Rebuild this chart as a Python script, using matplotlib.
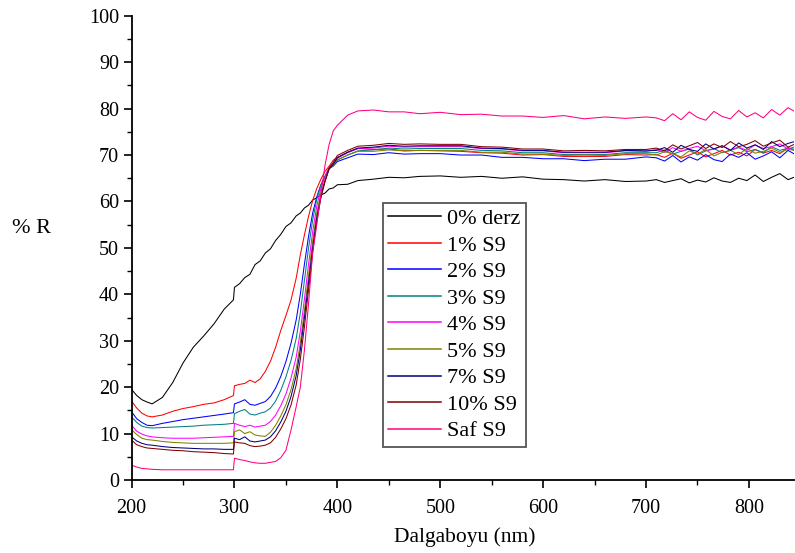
import matplotlib
matplotlib.use("Agg")
import matplotlib.pyplot as plt
from matplotlib.ticker import MultipleLocator

plt.rcParams['font.family'] = ['Liberation Serif', 'DejaVu Serif']

# Wavelength grid (nm)
wavelength = [200, 205, 210, 215, 220, 230, 240, 250, 260, 270, 280, 290, 299,
              300, 305, 310, 315, 320, 325, 330, 335, 340, 345, 350, 355, 360,
              364, 368, 372, 376, 380, 384, 388, 392, 396, 400,
              410, 420, 435, 450, 465, 480, 500, 520, 540, 560, 580, 600, 620,
              640, 660, 680, 700,
              710, 718, 726, 734, 742, 750, 758, 766, 774, 782, 790, 798, 806,
              814, 822, 830, 838, 846]

# Reflectance (%) of each sample
r_0_derz = [19.5, 18.2, 17.3, 16.8, 16.4, 17.8, 21.0, 25.2, 28.6, 31.0, 33.6, 36.8, 38.8,
            41.5, 42.3, 43.6, 44.3, 46.4, 47.2, 48.9, 49.8, 51.6, 52.9, 54.6, 55.4, 56.9,
            57.5, 58.6, 59.2, 60.3, 60.8, 61.4, 61.8, 62.7, 62.9, 63.6,
            63.7, 64.5, 64.8, 65.2, 65.1, 65.4, 65.5, 65.2, 65.4, 65.0, 65.3, 64.8, 64.7,
            64.4, 64.7, 64.3, 64.4,
            64.7, 64.1, 64.5, 64.9, 64.0, 64.6, 64.2, 65.1, 64.4, 64.1, 65.0, 64.5, 65.7,
            64.3, 65.2, 66.0, 64.7, 65.4]
r_1_s9 = [17.0, 15.5, 14.4, 13.8, 13.6, 14.0, 14.8, 15.4, 15.8, 16.3, 16.6, 17.3, 18.2,
          20.3, 20.6, 20.8, 21.5, 21.0, 21.8, 23.4, 25.6, 28.6, 32.2, 35.4, 38.8, 43.5,
          48.5, 52.8, 56.8, 60.2, 62.8, 64.8, 66.5, 67.6, 68.9, 69.5,
          70.6, 71.4, 71.2, 71.3, 70.9, 71.0, 70.9, 70.8, 70.5, 70.4, 70.0, 70.1, 69.7,
          69.7, 69.7, 70.1, 70.0,
          70.1, 69.5, 70.4, 69.3, 70.0, 70.7, 69.6, 70.3, 71.0, 70.0, 70.6, 69.8, 71.2,
          70.4, 71.0, 70.3, 71.6, 70.8]
r_2_s9 = [14.7, 13.2, 12.4, 11.8, 11.7, 12.2, 12.6, 13.0, 13.3, 13.6, 13.9, 14.2, 14.5,
          16.4, 16.8, 17.3, 16.3, 16.1, 16.5, 16.9, 18.0, 19.8, 22.3, 25.5, 29.5, 34.5,
          40.0, 46.5, 52.5, 57.5, 61.0, 63.6, 65.4, 67.1, 67.6, 68.6,
          69.4, 70.2, 70.1, 70.5, 70.2, 70.3, 70.3, 70.0, 70.0, 69.5, 69.5, 69.2, 69.2,
          68.8, 69.1, 69.1, 69.6,
          69.4, 68.7, 69.9, 68.5, 69.6, 68.9, 70.1, 69.0, 68.6, 70.2, 69.5, 70.5, 69.1,
          69.8, 70.7, 69.4, 71.0, 70.0]
r_3_s9 = [13.6, 12.4, 11.6, 11.3, 11.2, 11.3, 11.4, 11.5, 11.6, 11.8, 11.9, 12.0, 12.2,
          14.3, 14.8, 15.2, 14.2, 14.0, 14.4, 14.7, 15.5, 17.0, 19.3, 22.2, 25.8, 30.5,
          36.0, 43.0, 50.0, 56.0, 60.5, 63.5, 65.4, 67.2, 67.8, 68.9,
          70.0, 70.9, 71.1, 71.5, 71.3, 71.4, 71.4, 71.4, 71.0, 70.9, 70.5, 70.5, 70.1,
          70.1, 70.1, 70.5, 70.5,
          70.5, 71.1, 70.2, 70.8, 71.3, 70.0, 70.9, 71.4, 70.5, 71.0, 71.6, 70.7, 71.2,
          70.5, 71.8, 71.0, 71.5, 71.2]
r_4_s9 = [11.8, 10.5, 9.9, 9.5, 9.3, 9.1, 9.0, 9.0, 9.0, 9.1, 9.2, 9.3, 9.4,
          12.2, 11.8, 11.5, 11.8, 11.4, 11.6, 11.8, 12.6, 14.0, 16.0, 18.5, 22.0, 26.5,
          32.0, 39.0, 46.5, 53.5, 59.0, 62.8, 65.3, 67.4, 68.2, 69.4,
          70.5, 71.4, 71.5, 71.9, 71.7, 71.8, 71.8, 71.8, 71.4, 71.3, 70.9, 70.9, 70.5,
          70.5, 70.5, 70.9, 70.8,
          71.2, 70.6, 71.6, 70.8, 71.4, 71.9, 70.9, 71.3, 72.0, 71.1, 71.7, 71.0, 72.2,
          71.4, 71.8, 72.4, 71.3, 71.9]
r_5_s9 = [10.8, 9.8, 9.0, 8.7, 8.6, 8.3, 8.1, 8.0, 7.9, 7.9, 7.9, 7.9, 8.0,
          10.4, 10.8, 10.0, 10.4, 9.7, 9.5, 9.4, 10.3, 11.8, 13.8, 16.2, 19.5, 24.0,
          29.5, 36.5, 44.0, 51.5, 57.5, 61.8, 64.6, 67.0, 67.8, 69.0,
          70.0, 70.8, 70.8, 71.1, 70.9, 71.0, 71.0, 71.0, 70.6, 70.6, 70.2, 70.2, 69.9,
          70.0, 69.9, 70.3, 70.3,
          70.0, 70.7, 70.3, 69.6, 70.9, 70.2, 71.2, 69.8, 70.6, 71.0, 70.1, 71.4, 70.4,
          70.8, 71.5, 70.6, 71.2, 71.0]
r_7_s9 = [9.3, 8.4, 7.9, 7.6, 7.5, 7.2, 7.0, 6.9, 6.8, 6.7, 6.7, 6.6, 6.6,
          9.0, 8.7, 9.3, 8.4, 8.2, 8.4, 8.6, 9.3, 10.6, 12.5, 14.8, 18.0, 22.5,
          28.0, 35.0, 42.5, 50.0, 56.5, 61.0, 64.3, 67.0, 68.0, 69.4,
          70.6, 71.5, 71.7, 72.1, 71.9, 72.0, 72.0, 72.0, 71.5, 71.4, 71.0, 71.0, 70.6,
          70.6, 70.6, 71.0, 70.9,
          71.0, 71.6, 70.6, 72.1, 71.2, 70.8, 72.4, 71.3, 72.0, 71.0, 72.6, 71.5, 72.2,
          71.2, 72.9, 71.8, 72.5, 73.0]
r_10_s9 = [8.6, 7.6, 7.2, 6.9, 6.8, 6.6, 6.4, 6.3, 6.1, 6.0, 5.9, 5.7, 5.6,
           8.2, 8.0, 7.9, 7.4, 7.2, 7.3, 7.5, 8.0, 9.2, 11.0, 13.2, 16.2, 20.5,
           26.0, 33.0, 41.0, 49.0, 55.8, 60.8, 64.4, 67.2, 68.4, 69.9,
           71.0, 71.9, 72.1, 72.5, 72.3, 72.4, 72.3, 72.3, 71.8, 71.7, 71.3, 71.3, 70.9,
           71.0, 70.9, 71.2, 71.2,
           71.5, 70.9, 72.2, 71.3, 72.0, 72.7, 71.4, 72.4, 71.6, 72.9, 71.8, 72.3, 73.1,
           71.9, 72.6, 73.2, 71.7, 72.5]
r_saf_s9 = [3.2, 2.8, 2.5, 2.4, 2.3, 2.2, 2.2, 2.2, 2.2, 2.2, 2.2, 2.2, 2.2,
            4.7, 4.4, 4.2, 3.9, 3.7, 3.6, 3.6, 3.8, 4.0, 4.8, 6.4, 10.8, 15.8,
            20.0, 28.0, 38.0, 49.0, 55.0, 61.5, 67.8, 72.3, 75.2, 76.4,
            78.6, 79.5, 79.7, 79.3, 79.3, 78.9, 79.2, 78.7, 78.8, 78.4, 78.4, 78.1, 78.5,
            77.8, 78.2, 77.9, 78.2,
            78.0, 77.4, 78.9, 77.6, 79.3, 78.1, 77.5, 79.4, 78.3, 77.8, 79.6, 78.2, 79.1,
            78.0, 79.8, 78.6, 80.2, 79.2]

labels = ['0% derz', '1% S9', '2% S9', '3% S9', '4% S9', '5% S9', '7% S9', '10% S9', 'Saf S9']
series = [r_0_derz, r_1_s9, r_2_s9, r_3_s9, r_4_s9, r_5_s9, r_7_s9, r_10_s9, r_saf_s9]
colors = ['#000000', '#ff0000', '#0000ff', '#008080', '#ff00ff',
          '#808000', '#000080', '#800000', '#ff0080']

fig = plt.figure(figsize=(7.95, 5.53), dpi=100)
ax = fig.add_axes([0.1655, 0.132, 0.8335, 0.8395])

for ys, lab, col in zip(series, labels, colors):
    ax.plot(wavelength, ys, color=col, lw=0.75, label=lab)

ax.set_xlim(200, 844)
ax.set_ylim(0, 100)
ax.xaxis.set_major_locator(MultipleLocator(100))
ax.xaxis.set_minor_locator(MultipleLocator(50))
ax.yaxis.set_major_locator(MultipleLocator(10))
ax.yaxis.set_minor_locator(MultipleLocator(5))
ax.tick_params(which='major', direction='out', length=6, width=1.2, labelsize=14.5)
ax.tick_params(which='minor', direction='out', length=3.5, width=1.0)
ax.tick_params(axis='x', pad=8)
ax.tick_params(axis='y', pad=3)
for side in ('top', 'right'):
    ax.spines[side].set_visible(False)
for side in ('left', 'bottom'):
    ax.spines[side].set_linewidth(1.3)

leg = ax.legend(loc='upper left', bbox_to_anchor=(0.379, 0.597), fontsize=16,
                frameon=True, fancybox=False, edgecolor='#555555', framealpha=1,
                handlelength=2.36, handletextpad=0.27, labelspacing=0.27,
                borderpad=0.25, borderaxespad=0)
leg.get_frame().set_linewidth(1.3)
for handle in leg.get_lines():
    handle.set_linewidth(1.1)

fig.text(0.040, 0.586, '% R', ha='center', va='center', fontsize=16)
fig.text(0.585, 0.029, 'Dalgaboyu (nm)', ha='center', va='center', fontsize=15.5)

fig.savefig('out.png', dpi=100)
